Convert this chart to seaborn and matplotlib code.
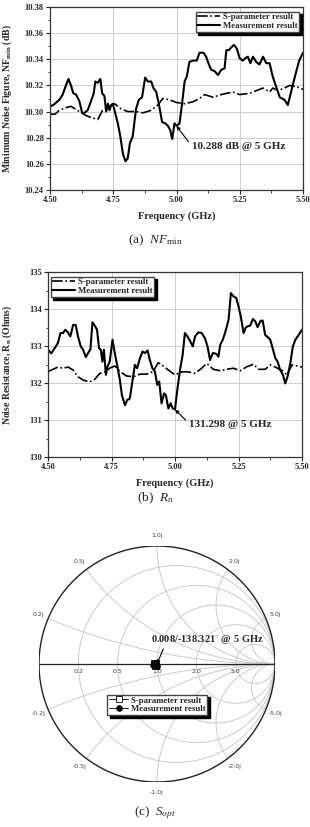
import matplotlib
matplotlib.use("Agg")
import matplotlib.pyplot as plt
import seaborn as sns
import numpy as np
import pandas as pd

# DATA
# (a) minimum noise figure
nf_meas_freq = [4.500, 4.513, 4.537, 4.550, 4.563, 4.573, 4.583, 4.592, 4.603, 4.616,
                4.627, 4.636, 4.649, 4.662, 4.673, 4.679, 4.689, 4.699, 4.706, 4.715,
                4.722, 4.729, 4.735, 4.742, 4.748, 4.755, 4.768, 4.778, 4.788, 4.798,
                4.807, 4.816, 4.827, 4.840, 4.851, 4.864, 4.876, 4.887, 4.900, 4.909,
                4.920, 4.930, 4.943, 4.956, 4.966, 4.975, 4.983, 4.992, 5.001, 5.012,
                5.022, 5.032, 5.041, 5.051, 5.065, 5.080, 5.091, 5.107, 5.117, 5.128,
                5.137, 5.150, 5.164, 5.177, 5.190, 5.197, 5.207, 5.216, 5.227, 5.239,
                5.249, 5.262, 5.273, 5.282, 5.292, 5.302, 5.315, 5.328, 5.342, 5.355,
                5.368, 5.380, 5.394, 5.408, 5.427, 5.440, 5.454, 5.471, 5.485, 5.500]
nf_meas = [10.304, 10.305, 10.309, 10.313, 10.320, 10.325, 10.320, 10.314, 10.313, 10.308,
           10.299, 10.299, 10.301, 10.308, 10.314, 10.323, 10.322, 10.325, 10.314, 10.312,
           10.300, 10.306, 10.301, 10.305, 10.306, 10.301, 10.291, 10.281, 10.268, 10.262,
           10.264, 10.276, 10.281, 10.302, 10.309, 10.311, 10.326, 10.323, 10.323, 10.318,
           10.315, 10.306, 10.292, 10.291, 10.289, 10.286, 10.279, 10.291, 10.289, 10.291,
           10.306, 10.323, 10.327, 10.338, 10.339, 10.339, 10.345, 10.345, 10.342, 10.336,
           10.332, 10.331, 10.328, 10.332, 10.333, 10.347, 10.347, 10.349, 10.351, 10.348,
           10.341, 10.339, 10.341, 10.342, 10.337, 10.342, 10.338, 10.336, 10.342, 10.337,
           10.337, 10.327, 10.319, 10.311, 10.309, 10.305, 10.316, 10.329, 10.339, 10.345]
nf_sp_freq = [4.500, 4.520, 4.537, 4.563, 4.583, 4.600, 4.616, 4.642, 4.669, 4.689,
              4.708, 4.735, 4.755, 4.781, 4.807, 4.840, 4.867, 4.900, 4.926, 4.946,
              4.972, 4.999, 5.032, 5.065, 5.091, 5.111, 5.144, 5.177, 5.223, 5.249,
              5.289, 5.342, 5.368, 5.381, 5.401, 5.427, 5.447, 5.474, 5.500]
nf_sp = [10.298, 10.298, 10.301, 10.303, 10.304, 10.302, 10.300, 10.297, 10.295, 10.294,
         10.301, 10.304, 10.306, 10.302, 10.300, 10.300, 10.299, 10.301, 10.305, 10.310,
         10.309, 10.307, 10.306, 10.3075, 10.310, 10.313, 10.311, 10.313, 10.315, 10.313,
         10.314, 10.318, 10.315, 10.318, 10.316, 10.318, 10.320, 10.319, 10.317]

# (b) noise resistance
rn_meas_freq = [4.500, 4.513, 4.526, 4.539, 4.549, 4.559, 4.568, 4.578, 4.588, 4.599,
                4.609, 4.618, 4.629, 4.638, 4.649, 4.658, 4.667, 4.675, 4.684, 4.693,
                4.701, 4.708, 4.714, 4.720, 4.728, 4.734, 4.743, 4.754, 4.763, 4.772,
                4.783, 4.791, 4.803, 4.812, 4.822, 4.833, 4.842, 4.851, 4.862, 4.872,
                4.882, 4.892, 4.901, 4.911, 4.921, 4.930, 4.938, 4.947, 4.957, 4.964,
                4.974, 4.983, 4.991, 5.000, 5.009, 5.020, 5.030, 5.039, 5.049, 5.059,
                5.070, 5.079, 5.092, 5.105, 5.118, 5.128, 5.138, 5.149, 5.162, 5.171,
                5.178, 5.188, 5.197, 5.211, 5.220, 5.230, 5.241, 5.250, 5.259, 5.270,
                5.278, 5.285, 5.296, 5.307, 5.316, 5.325, 5.336, 5.345, 5.355, 5.365,
                5.375, 5.386, 5.395, 5.404, 5.414, 5.425, 5.434, 5.443, 5.454, 5.464,
                5.474, 5.487, 5.500]
rn_meas = [132.90, 132.80, 132.94, 133.08, 133.35, 133.35, 133.44, 133.37, 133.26, 133.57,
           133.57, 133.26, 132.99, 132.90, 132.70, 132.81, 132.91, 133.64, 133.55, 133.44,
           132.94, 132.90, 132.58, 132.90, 132.22, 132.44, 132.58, 133.17, 132.81, 132.49,
           132.08, 131.67, 131.40, 131.54, 131.58, 132.08, 132.49, 132.40, 132.67, 132.85,
           132.81, 132.88, 132.62, 132.40, 132.31, 131.95, 132.04, 131.45, 131.72, 131.67,
           131.31, 131.45, 131.31, 131.29, 131.81, 132.36, 132.76, 133.35, 133.26, 133.14,
           132.99, 133.26, 133.37, 133.35, 133.21, 132.99, 132.62, 132.81, 132.79, 132.71,
           133.03, 133.17, 133.35, 133.71, 134.43, 134.34, 134.30, 134.07, 133.80, 133.35,
           133.49, 133.53, 133.55, 133.73, 133.67, 133.51, 133.67, 133.69, 133.30, 133.24,
           133.17, 132.90, 132.67, 132.58, 132.35, 132.22, 131.99, 132.17, 132.53, 132.99,
           133.17, 133.30, 133.44]
rn_sp_freq = [4.500, 4.520, 4.539, 4.559, 4.579, 4.599, 4.618, 4.638, 4.664, 4.684,
              4.704, 4.724, 4.743, 4.763, 4.783, 4.809, 4.836, 4.862, 4.888, 4.914,
              4.934, 4.954, 4.974, 5.000, 5.026, 5.053, 5.079, 5.105, 5.125, 5.151,
              5.178, 5.204, 5.230, 5.257, 5.283, 5.309, 5.329, 5.355, 5.375, 5.395,
              5.421, 5.441, 5.461, 5.480, 5.500]
rn_sp = [132.31, 132.37, 132.43, 132.40, 132.43, 132.35, 132.17, 132.08, 132.03, 132.10,
         132.26, 132.30, 132.40, 132.46, 132.31, 132.19, 132.17, 132.24, 132.24, 132.31,
         132.55, 132.46, 132.35, 132.22, 132.30, 132.30, 132.26, 132.40, 132.53, 132.37,
         132.33, 132.37, 132.40, 132.33, 132.44, 132.51, 132.37, 132.37, 132.49, 132.43,
         132.34, 132.22, 132.49, 132.46, 132.43]

# (c) optimum source reflection coefficient (magnitude, angle in degrees)
sopt_sp_mag = [0.012, 0.020, 0.015, 0.018, 0.024]
sopt_sp_ang = [-150.0, -140.0, -175.0, -120.0, 165.0]
sopt_meas_mag = [0.008, 0.022, 0.030, 0.018, 0.035, 0.026, 0.015]
sopt_meas_ang = [-138.3, -170.0, 160.0, -100.0, -160.0, 175.0, 140.0]

smith_r_values = [0.2, 0.5, 1.0, 2.0, 5.0]
smith_x_values = [0.2, 0.5, 1.0, 2.0, 5.0]

sns.set_style("ticks")
plt.rcParams['font.family'] = ['Liberation Serif', 'DejaVu Serif']
plt.rcParams['mathtext.fontset'] = 'custom'
plt.rcParams['mathtext.rm'] = 'Liberation Serif'
plt.rcParams['mathtext.it'] = 'Liberation Serif:italic'
plt.rcParams['mathtext.bf'] = 'Liberation Serif:bold'

W, H = 310, 827
fig = plt.figure(figsize=(W / 100, H / 100), dpi=100)


def px_axes(left, top, right, bottom):
    return fig.add_axes([left / W, 1 - bottom / H, (right - left) / W, (bottom - top) / H])


def style_axis(ax):
    ax.set_xlim(4.5, 5.5)
    ax.set_xticks([4.50, 4.75, 5.00, 5.25, 5.50])
    ax.set_xticklabels(['4.50', '4.75', '5.00', '5.25', '5.50'])
    ax.set_xticks(np.arange(4.5, 5.51, 0.125), minor=True)
    ax.grid(True, which='major', color='#c8c8c8', lw=0.6)
    ax.tick_params(which='major', direction='out', length=3, width=0.8, labelsize=6, pad=1.5)
    ax.tick_params(which='minor', direction='out', length=1.8, width=0.6)
    for lab in ax.get_xticklabels() + ax.get_yticklabels():
        lab.set_fontweight('bold')
    for sp in ax.spines.values():
        sp.set_visible(True)
        sp.set_linewidth(0.9)
        sp.set_color('#333333')
    ax.set_xlabel('Frequency (GHz)', fontsize=7.5, fontweight='bold', labelpad=5)


def add_legend(ax, loc, anchor, hl=2.6):
    leg = ax.legend(loc=loc, bbox_to_anchor=anchor, fontsize=6.3, frameon=True,
                    fancybox=False, edgecolor='#444444', framealpha=1,
                    shadow={'color': 'black', 'alpha': 1, 'ox': 2, 'oy': -2},
                    borderpad=0.2, labelspacing=0.05, handlelength=hl, handletextpad=0.3,
                    borderaxespad=0)
    for t in leg.get_texts():
        t.set_fontweight('bold')
    return leg


arrow_kw = dict(arrowstyle='-|>', color='black', lw=0.8, mutation_scale=5,
                shrinkA=0, shrinkB=0)

# (a) NFmin
ax1 = px_axes(50, 7, 303, 190)
df_a1 = pd.DataFrame({'f': nf_sp_freq, 'v': nf_sp})
df_a2 = pd.DataFrame({'f': nf_meas_freq, 'v': nf_meas})
sns.lineplot(data=df_a1, x='f', y='v', ax=ax1, color='black', lw=1.2, linestyle='-.',
             label='S-parameter result')
sns.lineplot(data=df_a2, x='f', y='v', ax=ax1, color='black', lw=1.5,
             label='Measurement result')
ax1.set_ylim(10.24, 10.38)
ax1.set_yticks(np.arange(10.24, 10.381, 0.02))
ax1.set_yticklabels(['%.2f' % v for v in np.arange(10.24, 10.381, 0.02)])
ax1.set_yticks(np.arange(10.24, 10.381, 0.01), minor=True)
style_axis(ax1)
ax1.set_ylabel(r'Minimum Noise Figure, NF$_{\mathbf{min}}$ (dB)', fontsize=7,
               fontweight='bold', labelpad=8)
add_legend(ax1, 'upper right', (0.985, 0.975))
ax1.annotate('10.288 dB @ 5 GHz', xy=(5.0, 10.289), xytext=(5.06, 10.273),
             fontsize=8, fontweight='bold', va='center', ha='left',
             arrowprops=dict(relpos=(0, 0.6), **arrow_kw))
fig.text(0.5, 1 - 240 / H, r'(a)  $\mathit{NF}_{\mathrm{min}}$', ha='center', va='center',
         fontsize=9.5)

# (b) Rn
ax2 = px_axes(48, 272, 302, 457)
df_b1 = pd.DataFrame({'f': rn_sp_freq, 'v': rn_sp})
df_b2 = pd.DataFrame({'f': rn_meas_freq, 'v': rn_meas})
sns.lineplot(data=df_b1, x='f', y='v', ax=ax2, color='black', lw=1.2, linestyle='-.',
             label='S-parameter result')
sns.lineplot(data=df_b2, x='f', y='v', ax=ax2, color='black', lw=1.5,
             label='Measurement result')
ax2.set_ylim(130, 135)
ax2.set_yticks([130, 131, 132, 133, 134, 135])
ax2.set_yticklabels(['130', '131', '132', '133', '134', '135'])
ax2.set_yticks(np.arange(130, 135.01, 0.5), minor=True)
style_axis(ax2)
ax2.set_ylabel(r'Noise Resistance, R$_{\mathbf{n}}$ (Ohms)', fontsize=7,
               fontweight='bold', labelpad=11)
add_legend(ax2, 'upper left', (0.01, 0.975))
ax2.annotate('131.298 @ 5 GHz', xy=(5.0, 131.28), xytext=(5.055, 130.89),
             fontsize=8, fontweight='bold', va='center', ha='left',
             arrowprops=dict(relpos=(0, 0.6), **arrow_kw))
fig.text(0.5, 1 - 498 / H, r'(b)  $R_n$', ha='center', va='center', fontsize=9.5)

# (c) Smith chart
cx, cy, R = 157, 664, 118
ax3 = px_axes(cx - R, cy - R, cx + R, cy + R)
ax3.axis('off')

grid_kw = dict(color='#c4c4c4', lw=0.6, zorder=1)
th = np.linspace(0, 2 * np.pi, 400)
for r in smith_r_values:
    c, rad = r / (1 + r), 1 / (1 + r)
    ax3.plot(c + rad * np.cos(th), rad * np.sin(th), **grid_kw)
t = np.linspace(0, 0.9995, 600)
rr = t / (1 - t)
for x in smith_x_values:
    for s in (1, -1):
        z = rr + 1j * s * x
        g = (z - 1) / (z + 1)
        ax3.plot(g.real, g.imag, **grid_kw)
ax3.plot(np.cos(th), np.sin(th), color='#222222', lw=1.0, zorder=2)
ax3.plot([-1, 1], [0, 0], color='#222222', lw=0.9, zorder=2)

lab_kw = dict(fontsize=4.5, family='DejaVu Sans', color='#444444', ha='center', va='center')
for r in smith_r_values:
    g = (r - 1) / (r + 1)
    ax3.text(g, -0.06, '%.1f' % r, **lab_kw)
for x in smith_x_values:
    for s in (1, -1):
        z = 1j * s * x
        g = (z - 1) / (z + 1)
        ax3.text(1.09 * g.real, 1.09 * g.imag, ('%.1fj' % x) if s > 0 else ('-%.1fj' % x),
                 clip_on=False, **lab_kw)

sp_g = np.array(sopt_sp_mag) * np.exp(1j * np.deg2rad(sopt_sp_ang))
ms_g = np.array(sopt_meas_mag) * np.exp(1j * np.deg2rad(sopt_meas_ang))
df_c1 = pd.DataFrame({'re': sp_g.real, 'im': sp_g.imag})
df_c2 = pd.DataFrame({'re': ms_g.real, 'im': ms_g.imag})
sns.lineplot(data=df_c1, x='re', y='im', ax=ax3, sort=False, color='black', lw=0.6,
             marker='s', markersize=4, markerfacecolor='white', markeredgecolor='black',
             markeredgewidth=0.6, label='S-parameter result', zorder=4)
sns.lineplot(data=df_c2, x='re', y='im', ax=ax3, sort=False, color='black', lw=0.6,
             marker='o', markersize=4, markerfacecolor='black', markeredgecolor='black',
             label='Measurement result', zorder=5)
ax3.set_xlim(-1, 1)
ax3.set_ylim(-1, 1)
leg3 = ax3.legend(loc='upper left', bbox_to_anchor=(0.29, 0.37), fontsize=6.3,
                  frameon=True, fancybox=False, edgecolor='#444444', framealpha=1,
                  shadow={'color': 'black', 'alpha': 1, 'ox': 2, 'oy': -2},
                  borderpad=0.2, labelspacing=0.05, handlelength=2.2, handletextpad=0.3,
                  borderaxespad=0)
for tx in leg3.get_texts():
    tx.set_fontweight('bold')
ax3.annotate(r'0.008/-138.321$^{\circ}$ @ 5 GHz', xy=(0.0, 0.0), xytext=(-0.05, 0.21),
             fontsize=7.5, fontweight='bold', va='center', ha='left',
             arrowprops=dict(relpos=(0.12, 0), **arrow_kw))
fig.text(0.5, 1 - 813 / H, r'(c)  $S_{opt}$', ha='center', va='center', fontsize=9.5)

plt.savefig('out.png', dpi=100)
